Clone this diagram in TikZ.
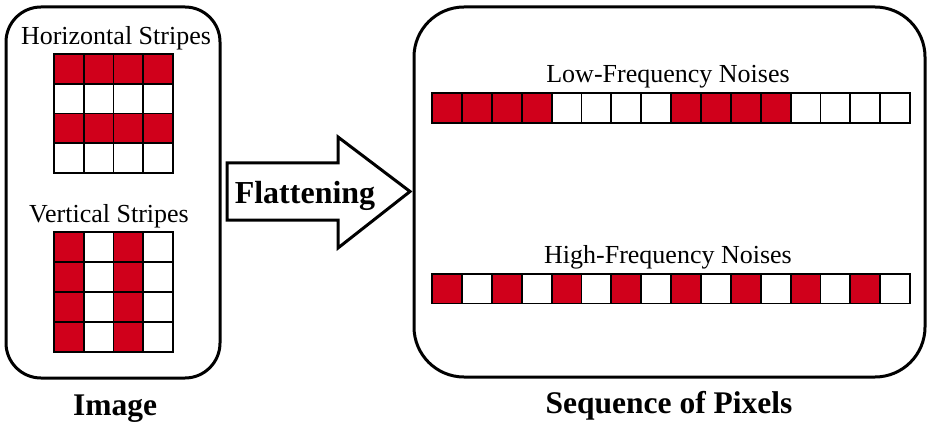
\documentclass[tikz,border=0pt]{standalone}
\usepackage{fontspec}
\setmainfont{Liberation Serif}
\definecolor{pixred}{RGB}{208,0,27}
\tikzset{
  panel/.style={draw=black, line width=3pt, rounded corners=#1, inner sep=0pt},
  pix/.style={draw=black, line width=1.8pt, minimum size=29.8pt, inner sep=0pt, outer sep=0pt},
  redpix/.style={pix, fill=pixred},
  whitepix/.style={pix, fill=white},
  caption/.style={font=\fontsize{26}{30}\selectfont, anchor=base, inner sep=0pt},
  title/.style={font=\fontsize{31.5}{36}\selectfont\bfseries, anchor=base, inner sep=0pt},
  flowarrow/.style={draw=black, line width=3pt, fill=white, line join=miter},
}
\begin{document}
\begin{tikzpicture}[x=1pt, y=-1pt]
\useasboundingbox (0,0) rectangle (928,422);

% outer panels
\node[panel=35pt, minimum width=214pt, minimum height=371pt] (imgbox) at (113,192.5) {};
\node[panel=50pt, minimum width=511pt, minimum height=370pt] (seqbox) at (669.5,192) {};

% labels under the panels
\node[title] (imglabel) at (115,415) {Image};
\node[title] (seqlabel) at (669,413) {Sequence of Pixels};

% horizontal stripes: rows 1 and 3 are red
\node[caption] (hcap) at (116,45) {Horizontal Stripes};
\foreach \r in {0,...,3}{
  \foreach \c in {0,...,3}{
    \pgfmathtruncatemacro{\isred}{mod(\r,2)==0 ? 1 : 0}
    \ifnum\isred=1
      \node[redpix] (h-\r-\c) at (68.9+29.75*\c, 68.9+29.75*\r) {};
    \else
      \node[whitepix] (h-\r-\c) at (68.9+29.75*\c, 68.9+29.75*\r) {};
    \fi
  }
}

% vertical stripes: columns 1 and 3 are red
\node[caption] (vcap) at (109,222) {Vertical Stripes};
\foreach \r in {0,...,3}{
  \foreach \c in {0,...,3}{
    \pgfmathtruncatemacro{\isred}{mod(\c,2)==0 ? 1 : 0}
    \ifnum\isred=1
      \node[redpix] (v-\r-\c) at (68.9+29.75*\c, 247+29.9*\r) {};
    \else
      \node[whitepix] (v-\r-\c) at (68.9+29.75*\c, 247+29.9*\r) {};
    \fi
  }
}

% flattening arrow
\coordinate (ashaft) at (227,191.5);
\coordinate (atip) at (410,191.5);
\draw[flowarrow] (227,163) -- (338,163) -- (338,137) -- (atip) -- (338,248) -- (338,220) -- (227,220) -- cycle;
\node[font=\fontsize{32}{36}\selectfont\bfseries, anchor=base, inner sep=0pt] (flat) at (305,203) {Flattening};

% low-frequency sequence: blocks of four
\node[caption] (lowcap) at (668,83) {Low-Frequency Noises};
\foreach \i in {0,...,15}{
  \pgfmathtruncatemacro{\isred}{mod(floor(\i/4),2)==0 ? 1 : 0}
  \ifnum\isred=1
    \node[redpix] (low-\i) at (447+29.875*\i, 108) {};
  \else
    \node[whitepix] (low-\i) at (447+29.875*\i, 108) {};
  \fi
}

% high-frequency sequence: alternating pixels
\node[caption] (highcap) at (668,263) {High-Frequency Noises};
\foreach \i in {0,...,15}{
  \pgfmathtruncatemacro{\isred}{mod(\i,2)==0 ? 1 : 0}
  \ifnum\isred=1
    \node[redpix] (high-\i) at (447+29.875*\i, 288.5) {};
  \else
    \node[whitepix] (high-\i) at (447+29.875*\i, 288.5) {};
  \fi
}
\end{tikzpicture}
\end{document}
